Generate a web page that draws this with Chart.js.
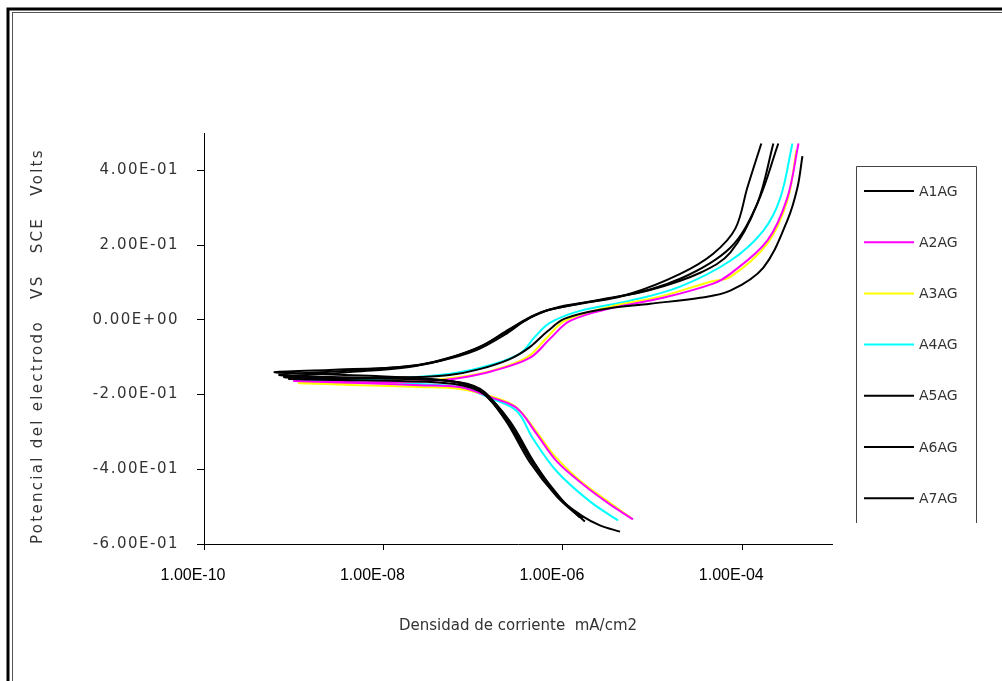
<!DOCTYPE html>
<html>
<head>
<meta charset="utf-8">
<script src="https://cdn.jsdelivr.net/npm/chart.js@4.4.1/dist/chart.umd.min.js"></script>
<style>
  html, body { margin: 0; padding: 0; background: #fff; }
  #wrap { width: 1002px; height: 681px; }
</style>
</head>
<body>
<div id="wrap"><canvas id="myChart" width="1002" height="681"></canvas></div>
<script>
/* globals Chart:false */

// [current density mA/cm2, potential V vs SCE]
const A1AG = [[1.67e-6,-0.532],[9.25e-7,-0.478],[4.62e-7,-0.384],[2.37e-7,-0.271],[1.28e-7,-0.196],[7.06e-8,-0.169],[2.53e-8,-0.156],[6.98e-9,-0.150],[1.93e-9,-0.145],[6.1e-10,-0.140],
  [2.49e-9,-0.134],[1.51e-8,-0.126],[4.23e-8,-0.110],[1.09e-7,-0.081],[2.25e-7,-0.040],[3.76e-7,-0.003],[6.29e-7,0.024],[1.55e-6,0.043],[5.61e-6,0.070],[2.03e-5,0.123],[4.74e-5,0.177],[8.36e-5,0.244],[1.14e-4,0.354],[1.63e-4,0.472]];
const A2AG = [[6.05e-6,-0.534],[3.35e-6,-0.494],[1.67e-6,-0.440],[8.57e-7,-0.379],[5.12e-7,-0.306],[3.06e-7,-0.236],[1.65e-7,-0.209],[7.06e-8,-0.180],[2.53e-8,-0.175],[5.39e-9,-0.169],[1.01e-9,-0.164],
  [9.02e-9,-0.167],[3.27e-8,-0.164],[7.06e-8,-0.156],[1.65e-7,-0.137],[4.28e-7,-0.102],[7.16e-7,-0.051],[1.20e-6,-0.003],[3.62e-6,0.032],[1.31e-5,0.059],[4.74e-5,0.097],[7.35e-5,0.123],[1.90e-4,0.212],[3.18e-4,0.327],[4.23e-4,0.472]];
const A3AG = [[5.90e-6,-0.532],[3.18e-6,-0.486],[1.55e-6,-0.430],[8.15e-7,-0.365],[4.86e-7,-0.293],[2.91e-7,-0.231],[1.53e-7,-0.204],[7.06e-8,-0.185],[2.53e-8,-0.180],[5.39e-9,-0.175],[1.15e-9,-0.169],
  [1.51e-8,-0.167],[7.06e-8,-0.153],[1.74e-7,-0.134],[4.06e-7,-0.099],[6.62e-7,-0.048],[1.05e-6,-0.003],[3.35e-6,0.035],[1.21e-5,0.062],[4.39e-5,0.102],[7.35e-5,0.115],[1.90e-4,0.204],[3.18e-4,0.319],[4.01e-4,0.454]];
const A4AG = [[4.12e-6,-0.537],[2.00e-6,-0.486],[8.57e-7,-0.406],[4.62e-7,-0.317],[3.06e-7,-0.244],[1.53e-7,-0.209],[7.06e-8,-0.180],[2.53e-8,-0.172],[5.39e-9,-0.167],[9.4e-10,-0.158],
  [9.02e-9,-0.158],[4.23e-8,-0.148],[1.18e-7,-0.129],[3.31e-7,-0.091],[4.9e-7,-0.045],[7.16e-7,-0.008],[1.55e-6,0.024],[5.61e-6,0.051],[2.03e-5,0.089],[7.35e-5,0.158],[1.72e-4,0.239],[2.66e-4,0.327],[3.62e-4,0.472]];
const A5AG = [[1.76e-6,-0.540],[9.75e-7,-0.481],[4.86e-7,-0.387],[2.49e-7,-0.274],[1.34e-7,-0.193],[7.06e-8,-0.167],[1.51e-8,-0.158],[3.22e-9,-0.156],[7.8e-10,-0.153],
  [4.17e-9,-0.140],[1.95e-8,-0.126],[4.81e-8,-0.105],[1.18e-7,-0.073],[2.43e-7,-0.030],[4.28e-7,0.005],[7.16e-7,0.027],[2.59e-6,0.054],[9.38e-6,0.080],[3.40e-5,0.126],[7.35e-5,0.180],[1.47e-4,0.311],[2.22e-4,0.472]];
const A6AG = [[1.55e-6,-0.529],[8.57e-7,-0.473],[4.28e-7,-0.381],[2.25e-7,-0.266],[1.18e-7,-0.188],[5.46e-8,-0.164],[9.02e-9,-0.156],[6.9e-10,-0.148],
  [5.39e-9,-0.134],[2.53e-8,-0.121],[5.46e-8,-0.102],[1.24e-7,-0.070],[2.56e-7,-0.024],[4.86e-7,0.013],[9.25e-7,0.035],[4.34e-6,0.062],[2.03e-5,0.110],[7.35e-5,0.193],[1.47e-4,0.311],[2.52e-4,0.472]];
const A7AG = [[4.34e-6,-0.567],[2.59e-6,-0.550],[1.67e-6,-0.526],[9.25e-7,-0.478],[4.86e-7,-0.384],[2.56e-7,-0.271],[1.34e-7,-0.199],[6.21e-8,-0.172],[1.51e-8,-0.164],[3.22e-9,-0.161],[8.9e-10,-0.158],
  [5.39e-9,-0.156],[2.53e-8,-0.153],[5.46e-8,-0.148],[1.18e-7,-0.132],[2.56e-7,-0.105],[4.28e-7,-0.073],[6.79e-7,-0.030],[1.05e-6,0.003],[2.59e-6,0.027],[9.38e-6,0.043],[3.40e-5,0.059],[7.35e-5,0.078],[1.72e-4,0.140],[3.18e-4,0.266],[4.12e-4,0.354],[4.68e-4,0.438]];

const seriesNames = ["A1AG", "A2AG", "A3AG", "A4AG", "A5AG", "A6AG", "A7AG"];
const seriesData = [A1AG, A2AG, A3AG, A4AG, A5AG, A6AG, A7AG];
const seriesColors = ["#000000", "#ff00ff", "#ffff00", "#00ffff", "#000000", "#000000", "#000000"];

const xTicks = [1e-10, 1e-8, 1e-6, 1e-4];
const yTicks = [-0.6, -0.4, -0.2, 0, 0.2, 0.4];

function sci(v) {
  return Number(v).toExponential(2).toUpperCase().replace(/E([+-])(\d)$/, "E$10$2");
}

// double frame round the whole picture
const framePlugin = {
  id: 'frame',
  beforeDraw(chart) {
    const ctx = chart.ctx;
    ctx.save();
    ctx.fillStyle = '#fff';
    ctx.fillRect(0, 0, chart.width, chart.height);
    ctx.strokeStyle = '#000';
    ctx.lineWidth = 3;
    ctx.strokeRect(8, 9, chart.width + 20, chart.height + 20);
    ctx.strokeStyle = '#555';
    ctx.lineWidth = 1;
    ctx.strokeRect(12.5, 12.5, chart.width + 20, chart.height + 20);
    ctx.restore();

    // y axis texts are drawn wide in the original
    const y = chart.scales.y;
    if (y && !y._spaced) {
      y._spaced = true;
      [['drawLabels', '1.5px'], ['drawTitle', '2.3px']].forEach(([fn, sp]) => {
        const orig = y[fn];
        y[fn] = function () {
          const c = this.ctx;
          const prev = c.letterSpacing;
          c.letterSpacing = sp;
          orig.apply(this, arguments);
          c.letterSpacing = prev;
        };
      });
    }
  }
};

// legend box on the right, open at the bottom
const legendBox = {
  id: 'legendBox',
  afterDraw(chart) {
    const ctx = chart.ctx;
    const left = 856.5, right = 976.5, top = 166.5, bottom = 523;
    ctx.save();
    ctx.strokeStyle = '#444';
    ctx.lineWidth = 1;
    ctx.beginPath();
    ctx.moveTo(left, bottom);
    ctx.lineTo(left, top);
    ctx.lineTo(right, top);
    ctx.lineTo(right, bottom);
    ctx.stroke();
    ctx.font = '14px "DejaVu Sans"';
    ctx.textBaseline = 'middle';
    ctx.fillStyle = '#333';
    chart.data.datasets.forEach((ds, i) => {
      const yy = 191 + i * 51.2;
      ctx.strokeStyle = ds.borderColor;
      ctx.lineWidth = 2;
      ctx.beginPath();
      ctx.moveTo(864, yy);
      ctx.lineTo(914, yy);
      ctx.stroke();
      ctx.fillText(ds.label, 919, yy + 1);
    });
    ctx.restore();
  }
};

new Chart(document.getElementById("myChart"), {
  type: 'scatter',
  data: {
    datasets: seriesNames.map((name, i) => ({
      label: name,
      data: seriesData[i].map(p => ({ x: p[0], y: p[1] })),
      borderColor: seriesColors[i],
      backgroundColor: seriesColors[i],
      borderWidth: 2,
      showLine: true,
      pointRadius: 0,
      tension: 0.35,
      order: seriesColors[i] === "#000000" ? 0 : 1
    }))
  },
  options: {
    responsive: false,
    animation: false,
    layout: { padding: { left: 29, top: 133, right: 170, bottom: 46 } },
    plugins: {
      legend: { display: false },
      tooltip: { enabled: false }
    },
    scales: {
      x: {
        type: 'logarithmic',
        min: 1e-10,
        max: 1e-3,
        afterBuildTicks: s => { s.ticks = xTicks.map(v => ({ value: v })); },
        afterFit: s => { s.height = 91; },
        grid: { drawOnChartArea: false, drawTicks: true, tickLength: 6, color: '#000' },
        border: { display: true, color: '#000', width: 1 },
        ticks: {
          autoSkip: false,
          maxRotation: 0,
          padding: 16,
          labelOffset: -11,
          color: '#000',
          font: { family: '"Liberation Sans", Arial, sans-serif', size: 16 },
          callback: v => sci(v)
        },
        title: {
          display: true,
          text: 'Densidad de corriente  mA/cm2',
          color: '#333',
          padding: 0,
          font: { family: '"DejaVu Sans", sans-serif', size: 15 }
        }
      },
      y: {
        min: -0.6,
        max: 0.5,
        afterBuildTicks: s => { s.ticks = yTicks.map(v => ({ value: v })); },
        afterFit: s => { s.width = 175; },
        grid: { drawOnChartArea: false, drawTicks: true, tickLength: 7, color: '#000' },
        border: { display: true, color: '#000', width: 1 },
        ticks: {
          padding: 18,
          color: '#333',
          font: { family: '"DejaVu Sans", sans-serif', size: 15 },
          callback: v => sci(v)
        },
        title: {
          display: true,
          align: 'start',
          text: 'Potencial del electrodo   VS   SCE   Volts',
          color: '#333',
          padding: 0,
          font: { family: '"DejaVu Sans", sans-serif', size: 15 }
        }
      }
    }
  },
  plugins: [framePlugin, legendBox]
});
</script>
</body>
</html>
